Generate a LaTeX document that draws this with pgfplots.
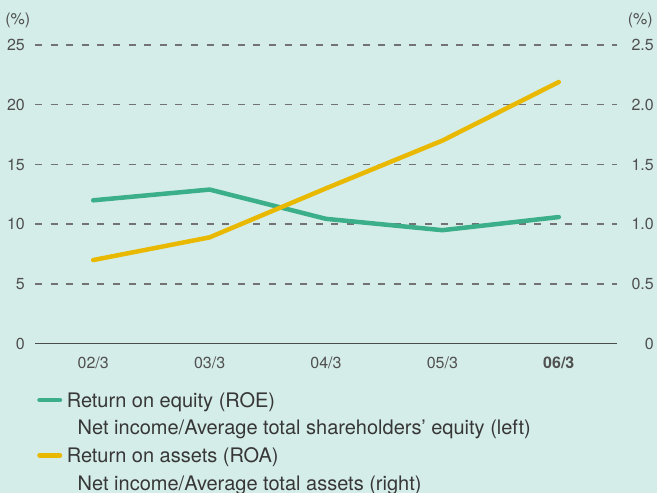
\documentclass[border=0pt]{standalone}
\usepackage{fontspec}
\setmainfont{TeX Gyre Heros}
\usepackage{pgfplots}
\pgfplotsset{compat=1.18}
\definecolor{bg}{RGB}{213,237,233}
\definecolor{roe}{RGB}{59,174,138}
\definecolor{roa}{RGB}{232,185,0}
\definecolor{gridc}{RGB}{115,115,115}
\definecolor{tickc}{RGB}{80,80,80}
\definecolor{legc}{RGB}{55,55,55}
\begin{document}
\begin{tikzpicture}
\fill[bg] (0,0) rectangle (657bp,493bp);
\useasboundingbox (0,0) rectangle (657bp,493bp);
\begin{axis}[
  at={(35bp,149.3bp)}, anchor=south west,
  scale only axis, width=582bp, height=298.7bp,
  xmin=-0.5, xmax=4.5, ymin=0, ymax=25,
  xtick={0,1,2,3,4},
  xticklabels={02/3,03/3,04/3,05/3,\textbf{06/3}},
  ytick={0,5,10,15,20,25},
  axis x line=bottom, axis y line=left,
  x axis line style={-, draw=black!70, line width=1bp},
  y axis line style={draw=none},
  major tick length=0pt,
  ymajorgrids,
  grid style={dash pattern=on 7bp off 8.6bp, gridc, line width=1.5bp},
  tick label style={font=\fontsize{16bp}{18bp}\selectfont, text=tickc, inner sep=0pt},
  yticklabel style={anchor=east, xshift=-10bp},
  xticklabel style={anchor=base, yshift=-25bp},
  /pgf/number format/assume math mode=true,
  clip=false,
  legend cell align=left,
  legend image code/.code={\draw[#1, line width=4.5bp, line cap=round] (0bp,0bp) -- (20.5bp,0bp);},
  legend style={draw=none, fill=none, at={(axis description cs:0,0)}, anchor=north west,
    xshift=2.25bp, yshift=-47.3bp, inner sep=0pt, outer sep=0pt,
    row sep=9.7bp, column sep=4.5bp,
    font=\fontsize{20bp}{22bp}\selectfont, text=legc,
    nodes={inner sep=0pt, text height=16bp, text depth=2bp}},
]
\addplot[roe, line width=4.5bp, line cap=round, line join=round] coordinates {
  (0,12.0) (1,12.9) (2,10.45) (3,9.5) (4,10.6)};
\addlegendentry{Return on equity (ROE)}
\addlegendimage{empty legend}
\addlegendentry{\hspace*{11bp}Net income/Average total shareholders’ equity (left)}
\addlegendimage{roa, line width=4.5bp}
\addlegendentry{Return on assets (ROA)}
\addlegendimage{empty legend}
\addlegendentry{\hspace*{11bp}Net income/Average total assets (right)}
\node[anchor=east, inner sep=0pt, font=\fontsize{16bp}{18bp}\selectfont, text=tickc, xshift=-4.5bp]
  at (rel axis cs:0,1.0837) {(\%)};
\end{axis}
\begin{axis}[
  at={(35bp,149.3bp)}, anchor=south west,
  scale only axis, width=582bp, height=298.7bp,
  xmin=-0.5, xmax=4.5, ymin=0, ymax=2.5,
  hide x axis,
  axis y line=right,
  y axis line style={draw=none},
  major tick length=0pt,
  ytick={0,0.5,1,1.5,2,2.5},
  yticklabels={0,0.5,1.0,1.5,2.0,2.5},
  yticklabel style={anchor=east, xshift=37bp, inner sep=0pt, font=\fontsize{16bp}{18bp}\selectfont, text=tickc},
  clip=false,
]
\addplot[roa, line width=4.5bp, line cap=round, line join=round] coordinates {
  (0,0.70) (1,0.89) (2,1.30) (3,1.70) (4,2.19)};
\node[anchor=east, inner sep=0pt, font=\fontsize{16bp}{18bp}\selectfont, text=tickc, xshift=36bp]
  at (rel axis cs:1,1.0837) {(\%)};
\end{axis}
\end{tikzpicture}
\end{document}
